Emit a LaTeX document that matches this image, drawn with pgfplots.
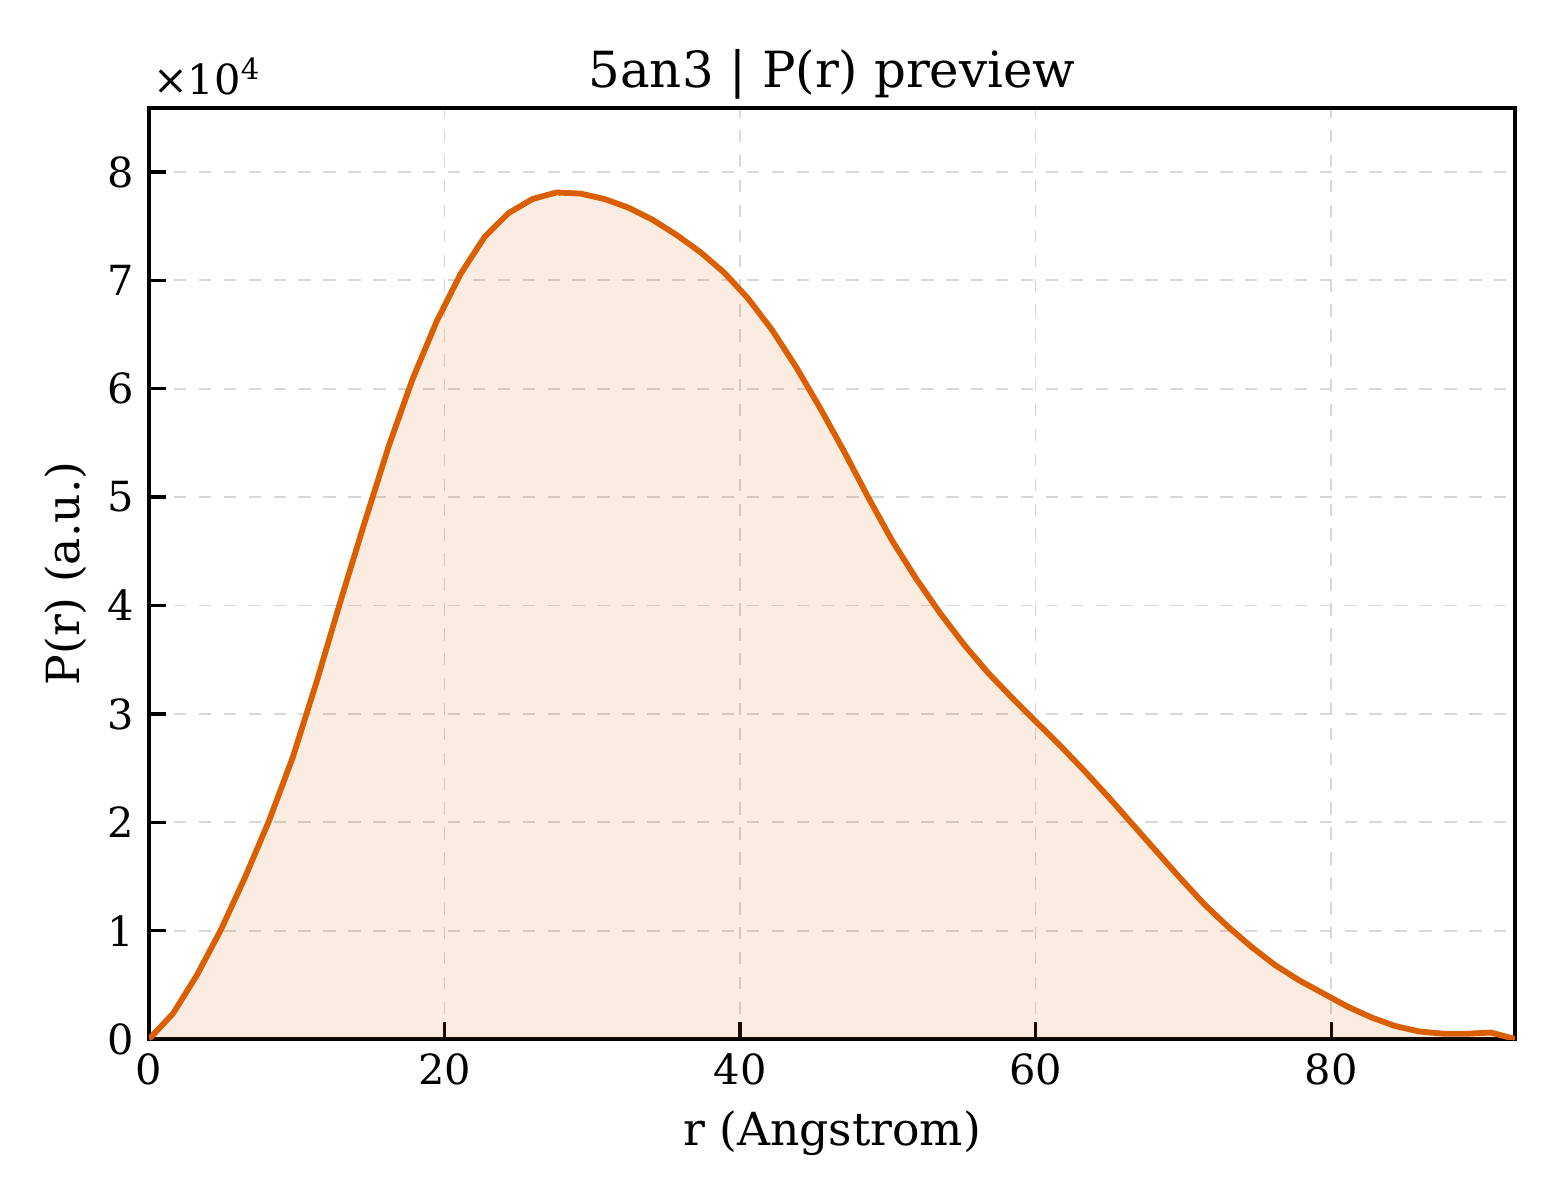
\documentclass[border=0pt]{standalone}
\usepackage{fontspec}
\setmainfont{DejaVu Serif}
\usepackage{pgfplots}
\usepackage{pgfplotstable}
\pgfplotsset{compat=1.18}
\definecolor{pr}{HTML}{D95F02}
\definecolor{gridc}{RGB}{215,215,215}

\pgfplotstableread{
r      p
0.00   0
1.62   2350
3.24   5900
4.87   10100
6.49   14900
8.11   20100
9.73   26000
11.35  33000
12.98  40500
14.60  47700
16.22  54700
17.84  60900
19.46  66200
21.09  70600
22.71  74000
24.33  76200
25.95  77500
27.57  78100
29.20  78000
30.82  77500
32.44  76700
34.06  75600
35.68  74200
37.31  72600
38.93  70700
40.55  68300
42.17  65400
43.79  62000
45.42  58200
47.04  54200
48.66  50000
50.28  46000
51.90  42500
53.53  39300
55.15  36400
56.77  33800
58.39  31500
60.01  29300
61.64  27100
63.26  24800
64.88  22400
66.50  19900
68.12  17400
69.75  14900
71.37  12500
72.99  10400
74.61  8500
76.23  6800
77.86  5400
79.48  4200
81.10  3000
82.72  2000
84.34  1200
85.97  700
87.59  500
89.21  500
90.83  600
92.45  0
}\prdata

\begin{document}
\begin{tikzpicture}
\begin{axis}[
    name=ax,
    scale only axis,
    width=329.1pt, height=224.3pt,
    xmin=0, xmax=92.45,
    ymin=0, ymax=85900,
    xtick={0,20,40,60,80},
    xticklabels={0,20,40,60,80},
    ytick={0,10000,20000,30000,40000,50000,60000,70000,80000},
    yticklabels={0,1,2,3,4,5,6,7,8},
    scaled y ticks=false,
    tick label style={font=\fontsize{10}{12}\selectfont},
    xtick pos=bottom, ytick pos=left,
    tick align=inside,
    major tick length=4pt,
    every tick/.style={black, line width=0.8pt},
    axis line style={line width=0.9pt},
    grid=major,
    grid style={gridc, dashed, line width=0.4pt},
    title={5an3 | P(r) preview},
    every axis title/.style={at={(axis description cs:0.5,1)}, anchor=base, yshift=5pt, font=\fontsize{12}{14}\selectfont},
    xlabel={r (Angstrom)},
    xlabel style={at={(axis description cs:0.5,-0.101)}, anchor=center, font=\fontsize{11}{13}\selectfont},
    ylabel={P(r) (a.u.)},
    ylabel style={at={(axis description cs:-0.061,0.5)}, anchor=center, font=\fontsize{11}{13}\selectfont},
]
\addplot[draw=none, fill=pr, fill opacity=0.12] table[x=r, y=p] {\prdata} \closedcycle;
\addplot[pr, line width=1.4pt] table[x=r, y=p] {\prdata};
\end{axis}
\node[anchor=base west, inner sep=0pt, yshift=3.2pt, xshift=0.8pt, font=\fontsize{10}{12}\selectfont]
    at (ax.north west) {×10\textsuperscript{4}};
\pgfresetboundingbox
\path ([shift={(-35.9pt,-38.8pt)}]ax.south west) rectangle ([shift={(10.8pt,26.0pt)}]ax.north east);
\end{tikzpicture}
\end{document}
